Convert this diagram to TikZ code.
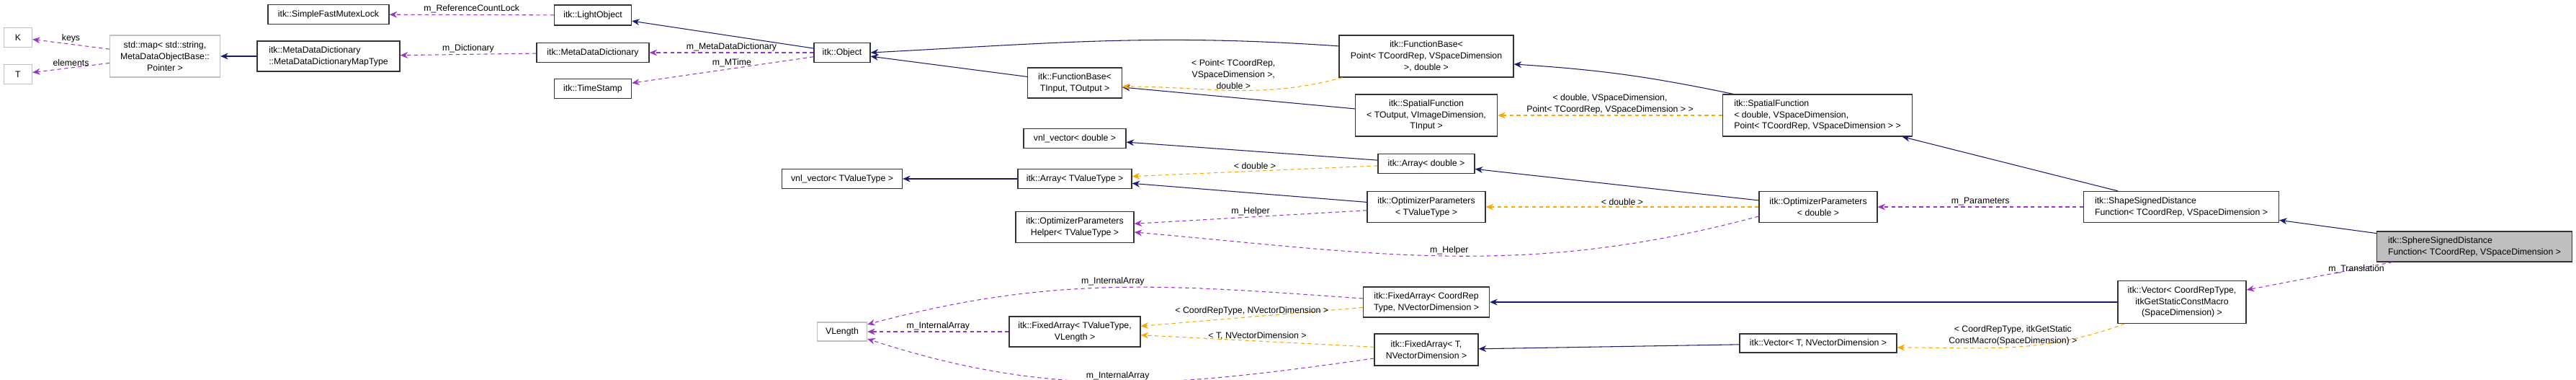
\documentclass[tikz,border=0pt]{standalone}
\usepackage{fontspec}
\setmainfont{Liberation Sans}
\usetikzlibrary{arrows.meta, positioning}
\definecolor{inhblue}{HTML}{191970}
\definecolor{usepurple}{HTML}{9A32CD}
\definecolor{tplorange}{HTML}{FFA500}
\definecolor{extgrey}{HTML}{BFBFBF}

\begin{document}
\begin{tikzpicture}[
    every node/.style={font=\fontsize{7}{9}\selectfont},
    cls/.style={draw=black!80, line width=0.7pt, fill=white, inner sep=1pt, align=center},
    ext/.style={cls, draw=extgrey},
    lbl/.style={inner sep=1pt, align=center, fill=none, draw=none},
    inh/.style={draw=inhblue, line width=0.6pt, -{Stealth[length=6pt,width=5pt]}},
    usg/.style={draw=usepurple, line width=0.6pt, dash pattern=on 3pt off 2.5pt, -{Stealth[length=6pt,width=5pt]}},
    tpl/.style={draw=tplorange, line width=0.6pt, dash pattern=on 3pt off 2.5pt, -{Stealth[length=6pt,width=5pt]}}]
    \useasboundingbox (0,0) rectangle (71.52,-10.54);

    % Classes
    \node[ext, minimum width=0.78cm, minimum height=0.54cm] (K) at (0.50,-1.04) {K};
    \node[ext, minimum width=0.78cm, minimum height=0.54cm] (T) at (0.50,-2.06) {T};
    \node[ext, minimum width=3.06cm, minimum height=1.16cm] (stdmap) at (4.58,-1.56) {std::map< std::string,\\ MetaDataObjectBase::\\Pointer >};
    \node[cls, minimum width=3.96cm, minimum height=0.84cm, align=left] (maptype) at (9.12,-1.56) {itk::MetaDataDictionary\\::MetaDataDictionaryMapType};
    \node[cls, minimum width=3.36cm, minimum height=0.54cm] (mutex) at (9.12,-0.40) {itk::SimpleFastMutexLock};
    \node[cls, minimum width=2.14cm, minimum height=0.56cm] (light) at (16.46,-0.42) {itk::LightObject};
    \node[cls, minimum width=3.12cm, minimum height=0.54cm] (mdd) at (16.46,-1.46) {itk::MetaDataDictionary};
    \node[cls, minimum width=2.14cm, minimum height=0.54cm] (stamp) at (16.46,-2.46) {itk::TimeStamp};
    \node[cls, minimum width=1.56cm, minimum height=0.54cm] (object) at (23.38,-1.46) {itk::Object};
    \node[cls, minimum width=2.62cm, minimum height=0.84cm] (fbase) at (29.84,-2.30) {itk::FunctionBase<\\ TInput, TOutput >};
    \node[cls, minimum width=2.84cm, minimum height=0.54cm] (vnldbl) at (29.84,-3.84) {vnl\_vector< double >};
    \node[cls, minimum width=3.34cm, minimum height=0.54cm] (vnltv) at (23.38,-4.96) {vnl\_vector< TValueType >};
    \node[cls, minimum width=3.16cm, minimum height=0.54cm] (arrtv) at (29.84,-4.96) {itk::Array< TValueType >};
    \node[cls, minimum width=3.28cm, minimum height=0.86cm] (helper) at (29.84,-6.30) {itk::OptimizerParameters\\Helper< TValueType >};
    \node[ext, minimum width=1.38cm, minimum height=0.52cm] (vlength) at (23.38,-9.20) {VLength};
    \node[cls, minimum width=3.64cm, minimum height=0.84cm] (fixtv) at (29.84,-9.20) {itk::FixedArray< TValueType,\\ VLength >};
    \node[cls, minimum width=4.84cm, minimum height=1.16cm] (fbasept) at (39.60,-1.56) {itk::FunctionBase<\\ Point< TCoordRep, VSpaceDimension\\ >, double >};
    \node[cls, minimum width=3.94cm, minimum height=1.16cm] (spatout) at (39.60,-3.20) {itk::SpatialFunction\\< TOutput, VImageDimension,\\ TInput >};
    \node[cls, minimum width=5.26cm, minimum height=1.16cm, align=left] (spatdbl) at (50.46,-3.20) {itk::SpatialFunction\\< double, VSpaceDimension,\\ Point< TCoordRep, VSpaceDimension > >};
    \node[cls, minimum width=2.68cm, minimum height=0.54cm] (arrdbl) at (39.60,-4.54) {itk::Array< double >};
    \node[cls, minimum width=3.28cm, minimum height=0.86cm] (opttv) at (39.60,-5.74) {itk::OptimizerParameters\\< TValueType >};
    \node[cls, minimum width=3.28cm, minimum height=0.86cm] (optdbl) at (50.48,-5.74) {itk::OptimizerParameters\\< double >};
    \node[cls, minimum width=3.50cm, minimum height=0.84cm] (fixcrt) at (39.60,-8.38) {itk::FixedArray< CoordRep\\Type, NVectorDimension >};
    \node[cls, minimum width=2.88cm, minimum height=0.88cm] (fixtn) at (39.60,-9.70) {itk::FixedArray< T,\\ NVectorDimension >};
    \node[cls, minimum width=4.36cm, minimum height=0.52cm] (vectn) at (50.48,-9.52) {itk::Vector< T, NVectorDimension >};
    \node[cls, minimum width=5.42cm, minimum height=0.86cm, align=left] (shape) at (60.56,-5.74) {itk::ShapeSignedDistance\\Function< TCoordRep, VSpaceDimension >};
    \node[cls, minimum width=5.42cm, minimum height=0.84cm, align=left, fill=extgrey] (sphere) at (68.70,-6.84) {itk::SphereSignedDistance\\Function< TCoordRep, VSpaceDimension >};
    \node[cls, minimum width=3.56cm, minimum height=1.18cm] (veccrt) at (60.58,-8.38) {itk::Vector< CoordRepType,\\ itkGetStaticConstMacro\\ (SpaceDimension) >};

    % Inheritance
    \draw[inh] (maptype) -- (stdmap);
    \draw[inh] (object) -- (light);
    \draw[inh] (fbase) -- (object);
    \draw[inh] ([yshift=8pt]fbasept.west) to[out=176,in=3] (object.east);
    \draw[inh] (spatout) -- (fbase);
    \draw[inh] ([xshift=0.3cm]spatdbl.north west) to[bend right=4] ([yshift=-0.22cm]fbasept.east);
    \draw[inh] (arrdbl) -- (vnldbl);
    \draw[inh] (arrtv) -- (vnltv);
    \draw[inh] (opttv) -- (arrtv);
    \draw[inh] (optdbl) -- (arrdbl);
    \draw[inh] (shape) -- (spatdbl);
    \draw[inh] (sphere) -- (shape);
    \draw[inh] (vectn) -- (fixtn);
    \draw[inh] (veccrt) -- (fixcrt);

    % Members
    \draw[usg] (stdmap) -- node[lbl, above] {keys} (K);
    \draw[usg] (stdmap) -- node[lbl, above] {elements} (T);
    \draw[usg] (mdd) -- node[lbl, above] {m\_Dictionary} (maptype);
    \draw[usg] (light) -- node[lbl, above] {m\_ReferenceCountLock} (mutex);
    \draw[usg] (object) -- node[lbl, above] {m\_MetaDataDictionary} (mdd);
    \draw[usg] (object) -- node[lbl, above, pos=0.45] {m\_MTime} (stamp);
    \draw[usg] (opttv) -- node[lbl, above] {m\_Helper} (helper);
    \draw[usg] ([yshift=-0.26cm]optdbl.west) to[out=195,in=-5] node[lbl, above] {m\_Helper} ([yshift=-0.14cm]helper.east);
    \draw[usg] (shape) -- node[lbl, above] {m\_Parameters} (optdbl);
    \draw[usg] (sphere) -- node[lbl, above right, pos=0.45] {m\_Translation} (veccrt);
    \draw[usg] (fixtv) -- node[lbl, above] {m\_InternalArray} (vlength);
    \draw[usg] ([yshift=0.1cm]fixcrt.west) to[out=176,in=15] node[lbl, above] {m\_InternalArray} ([yshift=0.2cm]vlength.east);
    \draw[usg] ([yshift=-0.24cm]fixtn.west) to[out=188,in=-18] node[lbl, above] {m\_InternalArray} ([yshift=-0.2cm]vlength.east);

    % Template instances
    \draw[tpl] ([xshift=0.1cm]fbasept.south west) to[out=195,in=0] node[lbl, above] {< Point< TCoordRep,\\VSpaceDimension >,\\double >} ([yshift=-0.1cm]fbase.east);
    \draw[tpl] (spatdbl) -- node[lbl, above] {< double, VSpaceDimension,\\Point< TCoordRep, VSpaceDimension > >} (spatout);
    \draw[tpl] (arrdbl) -- node[lbl, above] {< double >} (arrtv);
    \draw[tpl] (optdbl) -- node[lbl, above] {< double >} (opttv);
    \draw[tpl] (fixcrt) -- node[lbl, above] {< CoordRepType, NVectorDimension >} (fixtv);
    \draw[tpl] (fixtn) -- node[lbl, above] {< T, NVectorDimension >} (fixtv);
    \draw[tpl] ([xshift=0.2cm]veccrt.south west) to[out=200,in=0] node[lbl, above] {< CoordRepType, itkGetStatic\\ConstMacro(SpaceDimension) >} ([yshift=-0.12cm]vectn.east);
\end{tikzpicture}
\end{document}
